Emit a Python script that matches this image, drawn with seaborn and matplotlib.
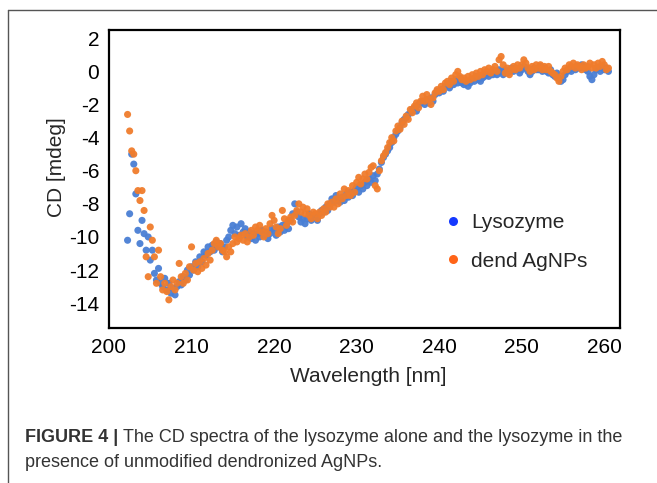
import numpy as np
import pandas as pd
import matplotlib
matplotlib.use('Agg')
import matplotlib.pyplot as plt
import seaborn as sns
from matplotlib.lines import Line2D

wl_start = 202.25
wl_step = 0.25

lysozyme_cd = [
    -10.2, -8.6, -5.0,                 # 202
    -5.6, -7.4, -9.6, -10.4,           # 203
    -9.0, -9.8, -10.8, -10.0,          # 204
    -11.4, -10.8, -12.2, -12.6,        # 205
    -11.9, -12.8, -13.0, -12.5,        # 206
    -13.2, -12.8, -13.4, -13.1,        # 207
    -13.5, -13.0, -12.7, -12.9,        # 208
    -12.4, -12.6, -12.0, -12.3,        # 209
    -11.8, -12.0, -11.5, -11.8,        # 210
    -11.2, -11.5, -10.9, -11.1,        # 211
    -10.6, -10.9, -10.5, -10.8,        # 212
    -10.3, -10.6, -10.4, -10.9,        # 213
    -10.6, -10.2, -10.0, -9.6,         # 214
    -9.3, -9.8, -9.4, -9.9,            # 215
    -9.2, -9.7, -9.5, -10.0,           # 216
    -9.7, -10.1, -9.8, -10.2,          # 217
    -9.8, -10.0, -9.6, -9.9,           # 218
    -9.7, -10.1, -9.8, -9.5,           # 219
    -9.6, -9.9, -9.4, -9.7,            # 220
    -9.3, -9.6, -9.2, -9.5,            # 221
    -9.0, -8.6, -8.0, -8.5,            # 222
    -8.8, -9.1, -8.9, -9.2,            # 223
    -8.9, -8.6, -9.0, -8.7,            # 224
    -8.8, -9.0, -8.6, -8.4,            # 225
    -8.5, -8.2, -8.4, -8.0,            # 226
    -7.7, -7.9, -7.5, -7.8,            # 227
    -7.9, -7.6, -7.8, -7.4,            # 228
    -7.6, -7.3, -7.5, -7.2,            # 229
    -7.0, -7.3, -6.9, -7.1,            # 230
    -6.7, -6.9, -6.5, -6.7,            # 231
    -6.3, -6.6, -6.2, -5.9,            # 232
    -5.5, -5.2, -5.0, -4.8,            # 233
    -4.6, -4.3, -4.0, -3.8,            # 234
    -3.6, -3.4, -3.1, -2.9,            # 235
    -2.8, -2.6, -2.5, -2.3,            # 236
    -2.2, -2.4, -2.0, -1.9,            # 237
    -1.8, -2.0, -1.7, -1.9,            # 238
    -1.6, -1.8, -1.4, -1.2,            # 239
    -1.3, -1.1, -1.2, -0.9,            # 240
    -0.8, -1.0, -0.6, -0.8,            # 241
    -0.5, -0.7, -0.4, -0.7,            # 242
    -0.8, -0.6, -0.9, -0.7,            # 243
    -0.5, -0.6, -0.3, -0.5,            # 244
    -0.6, -0.4, -0.3, -0.2,            # 245
    -0.3, -0.1, -0.2, 0.0,             # 246
    -0.2, 0.1, 0.0, -0.2,              # 247
    0.1, -0.1, 0.0, 0.2,               # 248
    0.0, 0.2, 0.1, -0.1,               # 249
    0.1, 0.3, 0.2, 0.0,                # 250
    -0.2, 0.0, 0.2, 0.1,               # 251
    0.1, 0.3, 0.0, 0.2,                # 252
    0.0, -0.1, 0.1, -0.2,              # 253
    -0.3, -0.1, -0.4, -0.6,            # 254
    -0.5, -0.2, 0.0, 0.1,              # 255
    0.0, 0.2, 0.1, 0.3,                # 256
    0.2, 0.4, 0.3, 0.1,                # 257
    0.0, -0.3, -0.5, -0.2,             # 258
    0.1, 0.2, 0.0, 0.3,                # 259
    0.1, 0.2, 0.0,                     # 260
]

dend_agnps_cd = [
    -2.6, -3.6, -4.8,                  # 202
    -5.0, -6.0, -7.2, -7.8,            # 203
    -7.2, -8.4, -11.2, -12.4,          # 204
    -9.4, -10.2, -11.2, -12.8,         # 205
    -10.8, -12.4, -13.2, -12.8,        # 206
    -13.3, -13.8, -13.0, -12.6,        # 207
    -13.2, -12.8, -11.6, -12.4,        # 208
    -12.8, -12.2, -12.6, -11.8,        # 209
    -10.6, -12.0, -11.6, -12.1,        # 210
    -11.5, -11.9, -11.3, -11.7,        # 211
    -11.0, -11.4, -10.8, -10.4,        # 212
    -10.2, -10.6, -10.4, -10.8,        # 213
    -10.9, -11.2, -10.6, -10.9,        # 214
    -10.4, -10.0, -10.3, -10.1,        # 215
    -9.9, -10.2, -9.8, -10.3,          # 216
    -10.0, -9.6, -9.9, -9.4,           # 217
    -9.6, -9.3, -9.7, -10.0,           # 218
    -9.5, -9.8, -9.2, -8.7,            # 219
    -9.0, -9.4, -9.8, -9.5,            # 220
    -8.4, -8.9, -9.3, -9.0,            # 221
    -8.8, -9.1, -8.7, -8.4,            # 222
    -8.0, -8.5, -8.2, -8.6,            # 223
    -8.3, -8.7, -8.9, -8.5,            # 224
    -8.6, -8.9, -8.5, -8.7,            # 225
    -8.3, -8.5, -8.0, -8.2,            # 226
    -7.9, -8.2, -7.7, -8.0,            # 227
    -7.4, -7.7, -7.1, -7.5,            # 228
    -7.2, -7.5, -6.9, -7.3,            # 229
    -6.7, -6.4, -6.8, -6.5,            # 230
    -6.2, -6.5, -6.1, -5.8,            # 231
    -5.7, -6.9, -7.1, -6.0,            # 232
    -5.4, -5.1, -4.9, -4.6,            # 233
    -4.3, -4.0, -4.2, -3.6,            # 234
    -3.3, -3.5, -3.0, -3.2,            # 235
    -2.7, -2.9, -2.3, -2.5,            # 236
    -2.1, -1.9, -2.2, -1.8,            # 237
    -1.5, -1.8, -1.4, -1.7,            # 238
    -2.0, -1.6, -1.3, -1.1,            # 239
    -1.2, -0.9, -1.1, -0.7,            # 240
    -0.6, -0.8, -0.4, -0.6,            # 241
    -0.2, 0.0, -0.3, -0.5,             # 242
    -0.4, -0.6, -0.3, -0.5,            # 243
    -0.2, -0.4, -0.1, -0.3,            # 244
    0.0, -0.2, 0.1, 0.0,               # 245
    0.2, -0.1, 0.1, 0.3,               # 246
    0.0, 0.7, 0.9, 0.4,                # 247
    -0.1, 0.2, -0.2, 0.1,              # 248
    0.3, 0.1, 0.4, 0.2,                # 249
    0.4, 0.7, 0.5, 0.2,                # 250
    0.0, 0.3, 0.1, 0.4,                # 251
    0.2, 0.4, 0.1, 0.3,                # 252
    0.1, 0.3, 0.0, -0.1,               # 253
    -0.2, -0.4, -0.6, -0.3,            # 254
    0.0, 0.2, 0.1, 0.4,                # 255
    0.3, 0.5, 0.2, 0.4,                # 256
    0.3, 0.1, 0.4, 0.2,                # 257
    0.3, 0.5, 0.2, 0.4,                # 258
    0.2, 0.5, 0.3, 0.6,                # 259
    0.4, 0.1, 0.2,                     # 260
]

series_names = ['Lysozyme', 'dend AgNPs']
point_colors = {'Lysozyme': '#4a7fd4', 'dend AgNPs': '#f07c2c'}
legend_colors = {'Lysozyme': '#1438ff', 'dend AgNPs': '#ff6418'}
x_ticks = [200, 210, 220, 230, 240, 250, 260]
y_ticks = [2, 0, -2, -4, -6, -8, -10, -12, -14]

caption_bold = 'FIGURE 4 |'
caption_line1 = 'The CD spectra of the lysozyme alone and the lysozyme in the'
caption_line2 = 'presence of unmodified dendronized AgNPs.'

# long-format table for seaborn
frames = []
for name, vals in zip(series_names, [lysozyme_cd, dend_agnps_cd]):
    wl = wl_start + wl_step * np.arange(len(vals))
    frames.append(pd.DataFrame({'Wavelength': wl, 'CD': vals, 'Sample': name}))
df = pd.concat(frames, ignore_index=True)

sns.set_style('white')
plt.rcParams['font.family'] = ['Liberation Sans', 'DejaVu Sans']
plt.rcParams['axes.unicode_minus'] = False

W, H = 657, 483
fig = plt.figure(figsize=(W / 100, H / 100), dpi=100)
ax = fig.add_axes([109 / W, 1 - 328 / H, 511 / W, 298 / H])

sns.scatterplot(data=df, x='Wavelength', y='CD', hue='Sample',
                palette=point_colors, s=26, linewidth=0, alpha=0.95,
                legend=False, ax=ax)

ax.set_xlim(200, 261.9)
ax.set_ylim(-15.5, 2.5)
ax.set_xticks(x_ticks)
ax.set_yticks(y_ticks)
ax.tick_params(length=0, labelsize=15, pad=7, colors='black')
ax.set_xlabel('')
ax.set_ylabel('')
for sp in ax.spines.values():
    sp.set_visible(True)
    sp.set_color('black')
    sp.set_linewidth(1.6)

fig.text(368 / W, 1 - 377 / H, 'Wavelength [nm]', fontsize=15,
         ha='center', va='center')
fig.text(57 / W, 1 - 167 / H, 'CD [mdeg]', fontsize=15, rotation=90,
         ha='center', va='center')

handles = [Line2D([], [], marker='o', ls='', markersize=6.5,
                  markerfacecolor=legend_colors[n], markeredgewidth=0,
                  label=n) for n in series_names]
fig.legend(handles=handles, loc='upper left',
           bbox_to_anchor=(444 / W, 1 - 213 / H), frameon=False,
           fontsize=15, handlelength=0.9, handletextpad=0.4,
           labelspacing=0.95, borderpad=0, borderaxespad=0)

# caption
cap_color = '#333333'
t_bold = fig.text(25 / W, 1 - 442 / H, caption_bold, fontsize=13,
                  weight='bold', color=cap_color, va='baseline')
fig.canvas.draw()
bb = t_bold.get_window_extent()
fig.text(bb.x1 / fig.bbox.width + 5 / W, 1 - 442 / H, caption_line1,
         fontsize=13, color=cap_color, va='baseline')
fig.text(25 / W, 1 - 467 / H, caption_line2, fontsize=13,
         color=cap_color, va='baseline')

# outer frame (left and top edges)
fig.add_artist(Line2D([8 / W, 8 / W], [0, 1 - 10 / H],
                      transform=fig.transFigure, color='#555555', lw=1))
fig.add_artist(Line2D([8 / W, 1], [1 - 10 / H, 1 - 10 / H],
                      transform=fig.transFigure, color='#555555', lw=1))

fig.savefig('out.png', dpi=100)
